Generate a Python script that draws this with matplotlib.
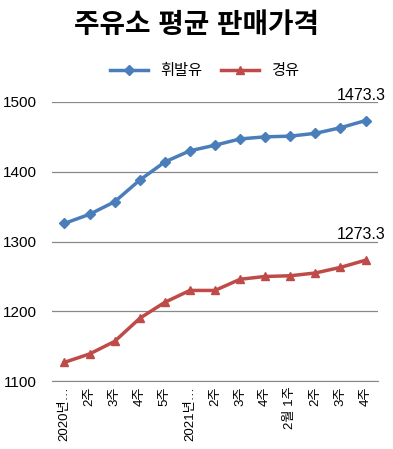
import matplotlib
matplotlib.use("Agg")
import matplotlib.pyplot as plt

plt.rcParams['font.family'] = ['Liberation Sans', 'Noto Sans CJK KR', 'DejaVu Sans']

weeks = ["2020년…", "2주", "3주", "4주", "5주", "2021년…", "2주", "3주", "4주",
         "2월 1주", "2주", "3주", "4주"]
gasoline = [1326, 1339, 1357, 1388, 1414, 1430, 1438, 1447, 1450, 1451, 1455, 1463, 1473.3]
diesel = [1127, 1139, 1157, 1190, 1213, 1230, 1230, 1246, 1250, 1251, 1255, 1263, 1273.3]

fig = plt.figure(figsize=(3.93, 4.49), dpi=100)
ax = fig.add_axes([0.132, 0.151, 0.830, 0.622])
x = range(len(weeks))
ax.plot(x, gasoline, "D-", color="#4A7EBB", lw=2.5, ms=5, label="휘발유")
ax.plot(x, diesel, "^-", color="#BE4B48", lw=2.5, ms=6, label="경유")

for vals in (gasoline, diesel):
    ax.annotate(f"{vals[-1]:.1f}", (len(weeks) - 1, vals[-1]), xytext=(-3, 13),
                textcoords="offset points", ha="center", va="bottom", fontsize=11.5)

ax.set_xlim(-0.5, len(weeks) - 0.5)
ax.set_ylim(1100, 1500)
ax.set_yticks([1100, 1200, 1300, 1400, 1500])
ax.yaxis.grid(True, color="#888888", lw=0.9)
ax.set_axisbelow(True)
for s in ("top", "right", "left"):
    ax.spines[s].set_visible(False)
ax.spines["bottom"].set_color("#888888")
ax.tick_params(axis="y", length=0, labelsize=11, pad=11)
ax.tick_params(axis="x", length=0, labelsize=9.5)
ax.set_xticks(list(x))
ax.set_xticklabels(weeks, rotation=90)

fig.text(0.5, 0.942, "주유소 평균 판매가격", ha="center", va="center",
         fontsize=20, fontweight="bold")
fig.legend(loc="center", bbox_to_anchor=(0.52, 0.842), ncol=2, frameon=False,
           fontsize=11, handlelength=2.5, columnspacing=1.2)

fig.savefig("out.png", dpi=100)
